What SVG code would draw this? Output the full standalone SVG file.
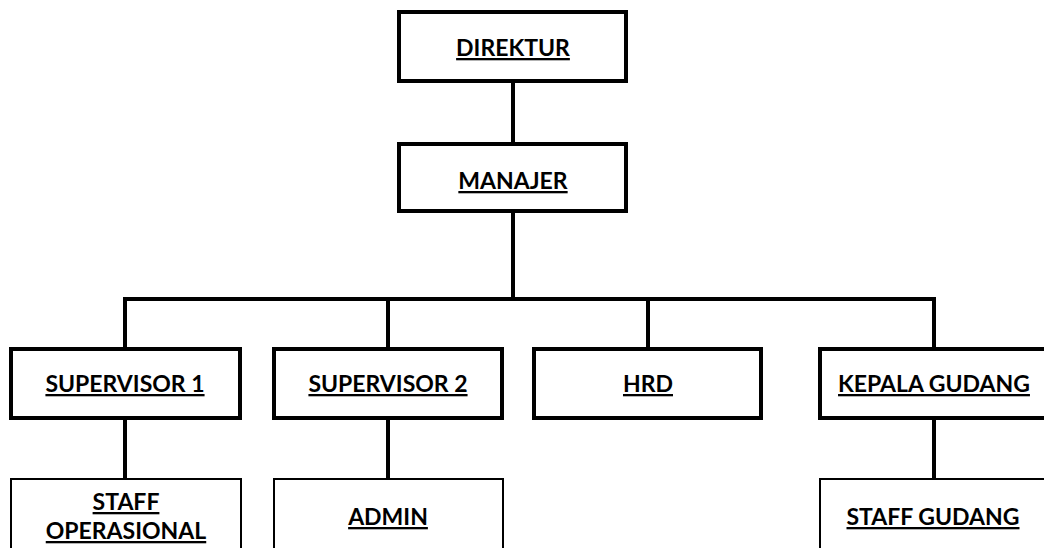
<svg xmlns="http://www.w3.org/2000/svg" width="1044" height="548" viewBox="0 0 1044 548">
<style>
.box{fill:#fff;stroke:#000;stroke-width:4}
.sub{fill:#fff;stroke:#000;stroke-width:2}
.lbl{font-family:Lato,"Open Sans",sans-serif;font-weight:bold;font-size:23px;fill:#000;text-anchor:middle;text-decoration:underline}
.con{stroke:#000;stroke-width:4;fill:none}
</style>
<rect width="1044" height="548" fill="#fff"/>
<g id="connectors">
<line class="con" x1="513" y1="81" x2="513" y2="144"/>
<line class="con" x1="513" y1="211" x2="513" y2="299"/>
<polyline class="con" points="125,349 125,299 934,299 934,349"/>
<line class="con" x1="388" y1="299" x2="388" y2="349"/>
<line class="con" x1="648" y1="299" x2="648" y2="349"/>
<line class="con" x1="125" y1="418" x2="125" y2="479"/>
<line class="con" x1="388" y1="418" x2="388" y2="479"/>
<line class="con" x1="934" y1="418" x2="934" y2="479"/>
</g>
<g id="direktur"><rect class="box" x="399" y="12" width="227" height="69"/><text class="lbl" x="513" y="56">DIREKTUR</text></g>
<g id="manajer"><rect class="box" x="399" y="144" width="227" height="67"/><text class="lbl" x="513" y="189">MANAJER</text></g>
<g id="supervisor1"><rect class="box" x="11" y="349" width="229" height="69"/><text class="lbl" x="125" y="392">SUPERVISOR 1</text></g>
<g id="supervisor2"><rect class="box" x="274" y="349" width="228" height="69"/><text class="lbl" x="388" y="392">SUPERVISOR 2</text></g>
<g id="hrd"><rect class="box" x="534" y="349" width="227" height="69"/><text class="lbl" x="648" y="392">HRD</text></g>
<g id="kepala-gudang"><rect class="box" x="820" y="349" width="240" height="69"/><text class="lbl" x="934" y="392">KEPALA GUDANG</text></g>
<g id="staff-operasional"><rect class="sub" x="11" y="479" width="230" height="90"/><text class="lbl" x="126" y="510">STAFF</text><text class="lbl" x="126" y="539">OPERASIONAL</text></g>
<g id="admin"><rect class="sub" x="274" y="479" width="229" height="90"/><text class="lbl" x="388" y="525">ADMIN</text></g>
<g id="staff-gudang"><rect class="sub" x="820" y="479" width="240" height="90"/><text class="lbl" x="933" y="525">STAFF GUDANG</text></g>
</svg>
